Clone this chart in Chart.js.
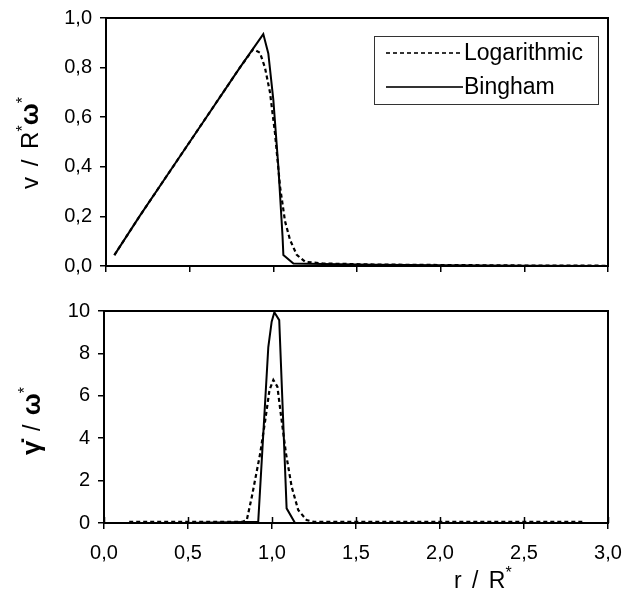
<!DOCTYPE html>
<html>
<head>
<meta charset="utf-8">
<script src="https://cdn.jsdelivr.net/npm/chart.js@4"></script>
<style>
  body { margin: 0; background: #fff; }
  #wrap { position: relative; width: 623px; height: 598px; font-family: "Liberation Sans", Arial, sans-serif; color: #000; }
  .box { position: absolute; left: 0; }
  .ttl { position: absolute; white-space: nowrap; font-size: 23px; line-height: 23px; }
  .rot { transform: translate(-50%, -50%) rotate(-90deg); }
  .st { font-size: 16px; position: relative; top: -10px; }
  .gr { font-weight: bold; font-size: 26px; }
</style>
</head>
<body>
<div id="wrap">
  <div class="box" style="top:0"><canvas id="cV" width="623" height="290"></canvas></div>
  <div class="box" style="top:290px"><canvas id="cG" width="623" height="308"></canvas></div>
  <div class="ttl rot" style="left:31px;top:143px;font-size:24px;word-spacing:4px">v / R<span class="st">*</span><span class="gr">ω</span><span class="st">*</span></div>
  <div class="ttl rot" style="left:33px;top:421px;word-spacing:3px"><span class="gr">γ̇</span> / <span class="gr">ω</span><span class="st">*</span></div>
  <div class="ttl" style="left:454px;top:569px;word-spacing:4px">r / R<span class="st">*</span></div>
</div>
<script>
'use strict';
// profil prędkości v/(R*ω*) w funkcji r/R*
const rVLog  = [0.05, 0.2, 0.4, 0.6, 0.8, 0.88, 0.92, 0.95, 0.98, 1.01, 1.04, 1.07, 1.10, 1.14, 1.19, 1.3, 1.6, 2.0, 2.5, 3.0];
const vLog   = [0.044, 0.2, 0.4, 0.6, 0.8, 0.875, 0.86, 0.80, 0.70, 0.535, 0.32, 0.18, 0.105, 0.045, 0.017, 0.01, 0.006, 0.004, 0.002, 0.001];
const rVBing = [0.05, 0.2, 0.4, 0.6, 0.8, 0.94, 0.97, 1.0, 1.03, 1.055, 1.06, 1.12, 1.3, 1.6, 2.0, 2.5, 3.0];
const vBing  = [0.044, 0.2, 0.4, 0.6, 0.8, 0.935, 0.857, 0.67, 0.40, 0.12, 0.044, 0.01, 0.008, 0.005, 0.003, 0.001, 0];

// szybkość ścinania γ̇/ω*
const rGLog  = [0.15, 0.5, 0.82, 0.85, 0.88, 0.93, 0.96, 0.985, 1.008, 1.032, 1.057, 1.083, 1.117, 1.156, 1.206, 1.25, 2.0, 2.85];
const gLog   = [0.05, 0.05, 0.05, 0.14, 1.24, 3.29, 4.86, 6.27, 6.75, 6.43, 4.86, 3.29, 1.71, 0.61, 0.14, 0.05, 0.05, 0.05];
const rGBing = [0.05, 0.5, 0.918, 0.978, 0.998, 1.014, 1.043, 1.087, 1.137, 1.5, 2.0, 3.0];
const gBing  = [0, 0, 0.06, 8.3, 9.5, 9.94, 9.57, 0.69, 0, 0, 0, 0];

const xTicks = [0, 0.5, 1, 1.5, 2, 2.5, 3];
const LABELS = ['Logarithmic', 'Bingham'];

const FONT = '"Liberation Sans", Arial, sans-serif';
Chart.defaults.font.family = FONT;
Chart.defaults.color = '#000';

const pts = (xs, ys) => xs.map((x, i) => ({ x, y: ys[i] }));
const comma = (v, d) => Number(v).toFixed(d).replace('.', ',');

function ds(label, xs, ys, dashed) {
  return { label, data: pts(xs, ys), showLine: true, pointRadius: 0,
    borderColor: '#000', borderWidth: dashed ? 2.2 : 2, borderDash: dashed ? [4, 3] : [],
    tension: 0, fill: false };
}

// ramka wokół obszaru wykresu
const frame = {
  id: 'frame',
  afterDraw(c) {
    const a = c.chartArea, ctx = c.ctx;
    ctx.save(); ctx.strokeStyle = '#000'; ctx.lineWidth = 2;
    ctx.strokeRect(a.left, a.top, a.right - a.left, a.bottom - a.top);
    ctx.restore();
  },
};

// legenda rysowana ręcznie (ramka w prawym górnym rogu)
const legendBox = {
  id: 'legendBox',
  afterDraw(c) {
    const ctx = c.ctx;
    ctx.save();
    ctx.strokeStyle = '#333'; ctx.lineWidth = 1;
    ctx.strokeRect(374.5, 36.5, 224, 68);
    ctx.font = '23px ' + FONT; ctx.fillStyle = '#000'; ctx.textBaseline = 'middle';
    c.data.datasets.forEach((d, i) => {
      const y = 53 + i * 34;
      ctx.lineWidth = 2.2; ctx.setLineDash(d.borderDash);
      ctx.beginPath(); ctx.moveTo(386, y); ctx.lineTo(463, y); ctx.stroke();
      ctx.setLineDash([]);
      ctx.fillText(d.label, 464, y + 1);
    });
    ctx.restore();
  },
};

// kreski podziałki przecinające oś x (dolny wykres)
const innerTicks = {
  id: 'innerTicks',
  afterDraw(c) {
    const s = c.scales.x, ctx = c.ctx, b = c.chartArea.bottom;
    ctx.save(); ctx.strokeStyle = '#000'; ctx.lineWidth = 1.5;
    s.ticks.forEach(t => {
      const x = Math.round(s.getPixelForValue(t.value)) + 0.5;
      ctx.beginPath(); ctx.moveTo(x, b - 6); ctx.lineTo(x, b); ctx.stroke();
    });
    ctx.restore();
  },
};

// bez automatycznego zapasu na etykiety — obszar wykresu ustalony paddingiem
const noPad = s => { s.paddingLeft = s.paddingRight = s.paddingTop = s.paddingBottom = 0; };

function xScale(showLabels, h) {
  return {
    type: 'linear', min: 0, max: 3,
    afterBuildTicks: s => { s.ticks = xTicks.map(v => ({ value: v })); },
    ticks: { callback: v => comma(v, 1), font: { size: 20 }, padding: 12,
      color: showLabels ? '#000' : 'rgba(0,0,0,0)', maxRotation: 0, autoSkip: false },
    grid: { drawOnChartArea: false, tickLength: 6, color: '#000', lineWidth: 1.5 },
    border: { color: '#000', width: 2 },
    afterFit: s => { s.height = h; noPad(s); },
  };
}

function yScale(max, step, dec, w) {
  return { min: 0, max,
    ticks: { stepSize: step, callback: v => comma(v, dec), font: { size: 20 }, padding: 8 },
    grid: { drawOnChartArea: false, tickLength: 6, color: '#000', lineWidth: 1.5 },
    border: { color: '#000', width: 2 },
    afterFit: s => { s.width = w; noPad(s); } };
}

new Chart(document.getElementById('cV'), {
  type: 'scatter',
  data: { datasets: [ds(LABELS[0], rVLog, vLog, true), ds(LABELS[1], rVBing, vBing, false)] },
  options: {
    responsive: false, animation: false, devicePixelRatio: 1,
    layout: { padding: { top: 18, right: 15, left: 0, bottom: 0 } },
    plugins: { legend: { display: false }, tooltip: { enabled: false } },
    scales: { x: xScale(false, 24), y: yScale(1, 0.2, 1, 106) },
  },
  plugins: [frame, legendBox],
});

new Chart(document.getElementById('cG'), {
  type: 'scatter',
  data: { datasets: [ds(LABELS[0], rGLog, gLog, true), ds(LABELS[1], rGBing, gBing, false)] },
  options: {
    responsive: false, animation: false, devicePixelRatio: 1,
    layout: { padding: { top: 21, right: 15, left: 0, bottom: 0 } },
    plugins: { legend: { display: false }, tooltip: { enabled: false } },
    scales: { x: xScale(true, 75), y: yScale(10, 2, 0, 104) },
  },
  plugins: [frame, innerTicks],
});
</script>
</body>
</html>
